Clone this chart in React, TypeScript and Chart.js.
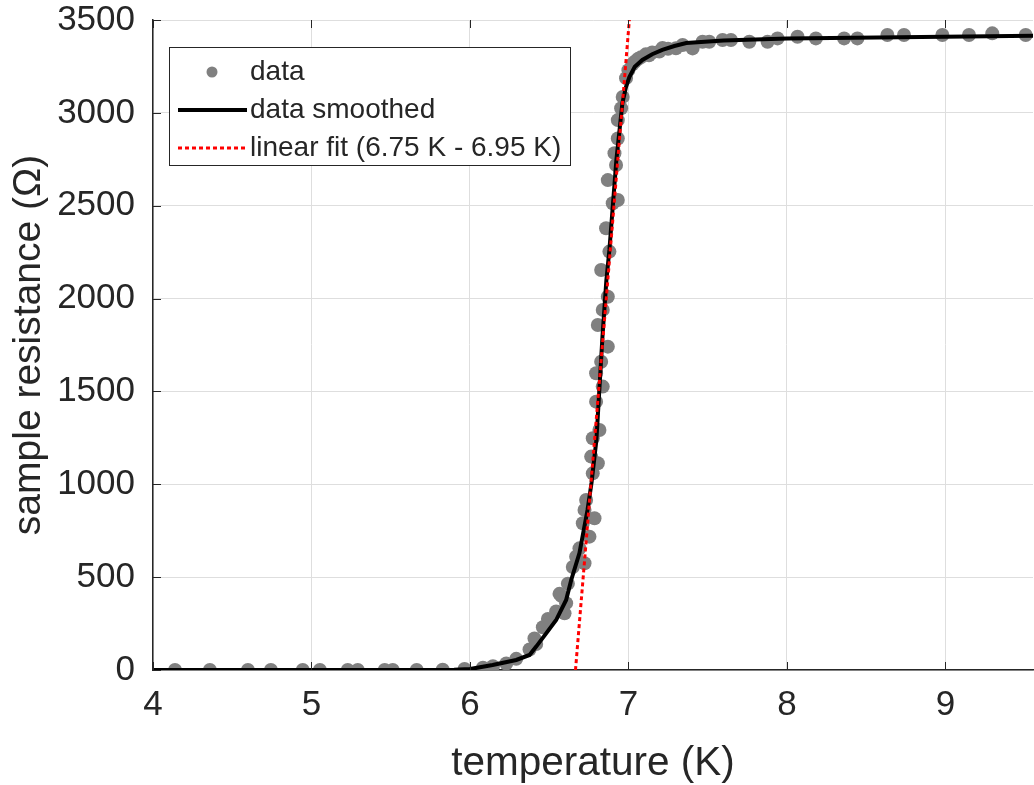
import React, { useEffect, useRef } from "react";
import { Chart, registerables } from "chart.js";

Chart.register(...registerables);

// measured data points (temperature K, resistance Ohm)
const tempData = [
  4.139, 4.359, 4.599, 4.744, 4.945, 5.053, 5.229, 5.292, 5.462, 5.513, 5.664, 5.828, 5.966,
  6.082, 6.145, 6.229, 6.292, 6.376, 6.407, 6.418, 6.46, 6.492, 6.544, 6.565, 6.576, 6.597,
  6.607, 6.618, 6.649, 6.67, 6.691, 6.712, 6.723, 6.723, 6.733, 6.754, 6.765, 6.775, 6.775,
  6.786, 6.796, 6.796, 6.807, 6.807, 6.817, 6.828, 6.828, 6.838, 6.838, 6.859, 6.87, 6.87,
  6.87, 6.88, 6.901, 6.912, 6.922, 6.933, 6.933, 6.933, 6.954, 6.964, 6.985, 7.0, 7.025,
  7.04, 7.06, 7.08, 7.11, 7.13, 7.15, 7.195, 7.215, 7.25, 7.3, 7.342, 7.405, 7.468, 7.51,
  7.594, 7.647, 7.763, 7.878, 7.941, 8.067, 8.183, 8.361, 8.445, 8.634, 8.739, 8.981, 9.149,
  9.296, 9.507,
];
const resData = [
  0, 0, 0, 0, 0, 0, 0, 0, 0, 0, 0, 2, 5,
  12, 20, 35, 60, 110, 170, 140, 230, 275, 315, 410, 400, 305,
  360, 465, 555, 610, 655, 790, 575, 862, 915, 718, 1149, 1059, 1248,
  817, 1445, 1598, 1113, 1858, 1292, 1660, 2154, 1526, 1939, 2379, 1741, 2010,
  2638, 2253, 2513, 2783, 2719, 2531, 2862, 2961, 3025, 3086, 3187, 3230, 3262,
  3275, 3290, 3300, 3315, 3310, 3325, 3330, 3349, 3345, 3348, 3365, 3347, 3383, 3383,
  3392, 3392, 3383, 3383, 3401, 3410, 3401, 3401, 3401, 3419, 3419, 3419, 3419,
  3428, 3419,
];

// smoothed curve
const smoothT = [
  4.0, 5.9, 6.0, 6.143, 6.292, 6.376, 6.418, 6.481, 6.544, 6.607, 6.639, 6.691, 6.742, 6.767,
  6.798, 6.836, 6.861, 6.88, 6.924, 6.962, 6.985, 7.006, 7.04, 7.088, 7.15, 7.214, 7.29,
  7.365, 7.6, 8.0, 9.6,
];
const smoothR = [
  0, 2, 5, 27, 54, 81, 126, 197, 269, 377, 485, 630, 862, 1007,
  1238, 1793, 2100, 2262, 2747, 3053, 3140, 3193, 3248, 3285, 3316, 3339, 3360,
  3376, 3390, 3400, 3415,
];

// linear fit line
const fitT = [6.666, 7.006];
const fitR = [0, 3500];

const xTickValues = [4, 5, 6, 7, 8, 9];
const yTickValues = [0, 500, 1000, 1500, 2000, 2500, 3000, 3500];
const legendLabels = ["data", "data smoothed", "linear fit (6.75 K - 6.95 K)"];

const FONT = "'Liberation Sans', Arial, Helvetica, sans-serif";
const TEXT = "#262626";
const GRID = "#dedede";

export default function App() {
  const ref = useRef<HTMLCanvasElement>(null);

  useEffect(() => {
    const canvas = ref.current;
    if (!canvas) return;

    const inwardTicks = {
      id: "inwardTicks",
      afterDatasetsDraw(chart: any) {
        const { ctx, chartArea } = chart;
        const xs = chart.scales.x;
        const ys = chart.scales.y;
        ctx.save();
        ctx.strokeStyle = TEXT;
        ctx.lineWidth = 1;
        const len = 8;
        xTickValues.forEach((v) => {
          const px = Math.round(xs.getPixelForValue(v)) + 0.5;
          ctx.beginPath();
          ctx.moveTo(px, chartArea.bottom);
          ctx.lineTo(px, chartArea.bottom - len);
          ctx.moveTo(px, chartArea.top);
          ctx.lineTo(px, chartArea.top + len);
          ctx.stroke();
        });
        yTickValues.forEach((v) => {
          const py = Math.round(ys.getPixelForValue(v)) + 0.5;
          ctx.beginPath();
          ctx.moveTo(chartArea.left, py);
          ctx.lineTo(chartArea.left + len, py);
          ctx.stroke();
        });
        ctx.restore();
      },
    };

    const legendBox = {
      id: "legendBox",
      afterDraw(chart: any) {
        const { ctx } = chart;
        const x0 = 169.5, y0 = 47.5, w = 401, h = 118;
        ctx.save();
        ctx.fillStyle = "#ffffff";
        ctx.fillRect(x0, y0, w, h);
        ctx.strokeStyle = TEXT;
        ctx.lineWidth = 1;
        ctx.strokeRect(x0, y0, w, h);
        const rows = [72, 110, 148];
        ctx.fillStyle = "#808080";
        ctx.beginPath();
        ctx.arc(212, rows[0], 5.5, 0, Math.PI * 2);
        ctx.fill();
        ctx.strokeStyle = "#000000";
        ctx.lineWidth = 4;
        ctx.beginPath();
        ctx.moveTo(178, rows[1]);
        ctx.lineTo(247, rows[1]);
        ctx.stroke();
        ctx.strokeStyle = "#ff0000";
        ctx.lineWidth = 3;
        ctx.setLineDash([4, 3]);
        ctx.beginPath();
        ctx.moveTo(178, rows[2]);
        ctx.lineTo(247, rows[2]);
        ctx.stroke();
        ctx.setLineDash([]);
        ctx.fillStyle = TEXT;
        ctx.font = `28px ${FONT}`;
        ctx.textBaseline = "middle";
        ctx.textAlign = "left";
        legendLabels.forEach((t, i) => ctx.fillText(t, 250, rows[i]));
        ctx.restore();
      },
    };

    const chart = new Chart(canvas, {
      type: "scatter",
      data: {
        datasets: [
          {
            label: legendLabels[2],
            data: fitT.map((t, i) => ({ x: t, y: fitR[i] })),
            showLine: true,
            borderColor: "#ff0000",
            borderWidth: 3,
            borderDash: [4, 3],
            pointRadius: 0,
            fill: false,
          },
          {
            label: legendLabels[1],
            data: smoothT.map((t, i) => ({ x: t, y: smoothR[i] })),
            showLine: true,
            borderColor: "#000000",
            borderWidth: 4,
            pointRadius: 0,
            fill: false,
            tension: 0,
          },
          {
            label: legendLabels[0],
            data: tempData.map((t, i) => ({ x: t, y: resData[i] })),
            backgroundColor: "#808080",
            borderWidth: 0,
            pointRadius: 7,
          },
        ],
      },
      options: {
        responsive: false,
        animation: false,
        devicePixelRatio: 1,
        layout: { padding: { top: 20, right: 0, left: 0, bottom: 0 } },
        plugins: { legend: { display: false }, tooltip: { enabled: false } },
        scales: {
          x: {
            type: "linear",
            min: 4,
            max: 9.553,
            afterBuildTicks: (s: any) => {
              s.ticks = xTickValues.map((v) => ({ value: v }));
            },
            afterFit: (s: any) => {
              s.height = 115;
              s.paddingLeft = 0;
              s.paddingRight = 0;
              s.paddingTop = 0;
              s.paddingBottom = 0;
            },
            ticks: {
              font: { family: FONT, size: 35 },
              color: TEXT,
              padding: 14,
              maxRotation: 0,
              autoSkip: false,
              callback: (v: any) => String(v),
            },
            grid: { color: GRID, drawTicks: false, lineWidth: 1 },
            border: { color: TEXT, width: 1.5 },
            title: {
              display: true,
              text: "temperature (K)",
              color: TEXT,
              font: { family: FONT, size: 40.5, lineHeight: 1.05 },
              padding: { top: 0, bottom: 0 },
            },
          },
          y: {
            type: "linear",
            min: 0,
            max: 3500,
            afterBuildTicks: (s: any) => {
              s.ticks = yTickValues.map((v) => ({ value: v }));
            },
            afterFit: (s: any) => {
              s.width = 153;
              s.paddingLeft = 0;
              s.paddingRight = 0;
              s.paddingTop = 0;
              s.paddingBottom = 0;
            },
            ticks: {
              font: { family: FONT, size: 35 },
              color: TEXT,
              padding: 18,
              autoSkip: false,
              callback: (v: any) => String(v),
            },
            grid: { color: GRID, drawTicks: false, lineWidth: 1 },
            border: { color: TEXT, width: 1.5 },
            title: {
              display: true,
              text: "sample resistance (Ω)",
              color: TEXT,
              font: { family: FONT, size: 39, lineHeight: 1.05 },
              padding: { top: 9, bottom: 0 },
            },
          },
        },
      },
      plugins: [inwardTicks, legendBox],
    });

    return () => chart.destroy();
  }, []);

  return (
    <div
      style={{
        position: "absolute",
        left: 0,
        top: 0,
        width: 1034,
        height: 785,
        overflow: "hidden",
        background: "#ffffff",
      }}
    >
      <canvas
        ref={ref}
        width={1040}
        height={785}
        style={{ position: "absolute", left: 0, top: 0, width: 1040, height: 785 }}
      />
    </div>
  );
}
